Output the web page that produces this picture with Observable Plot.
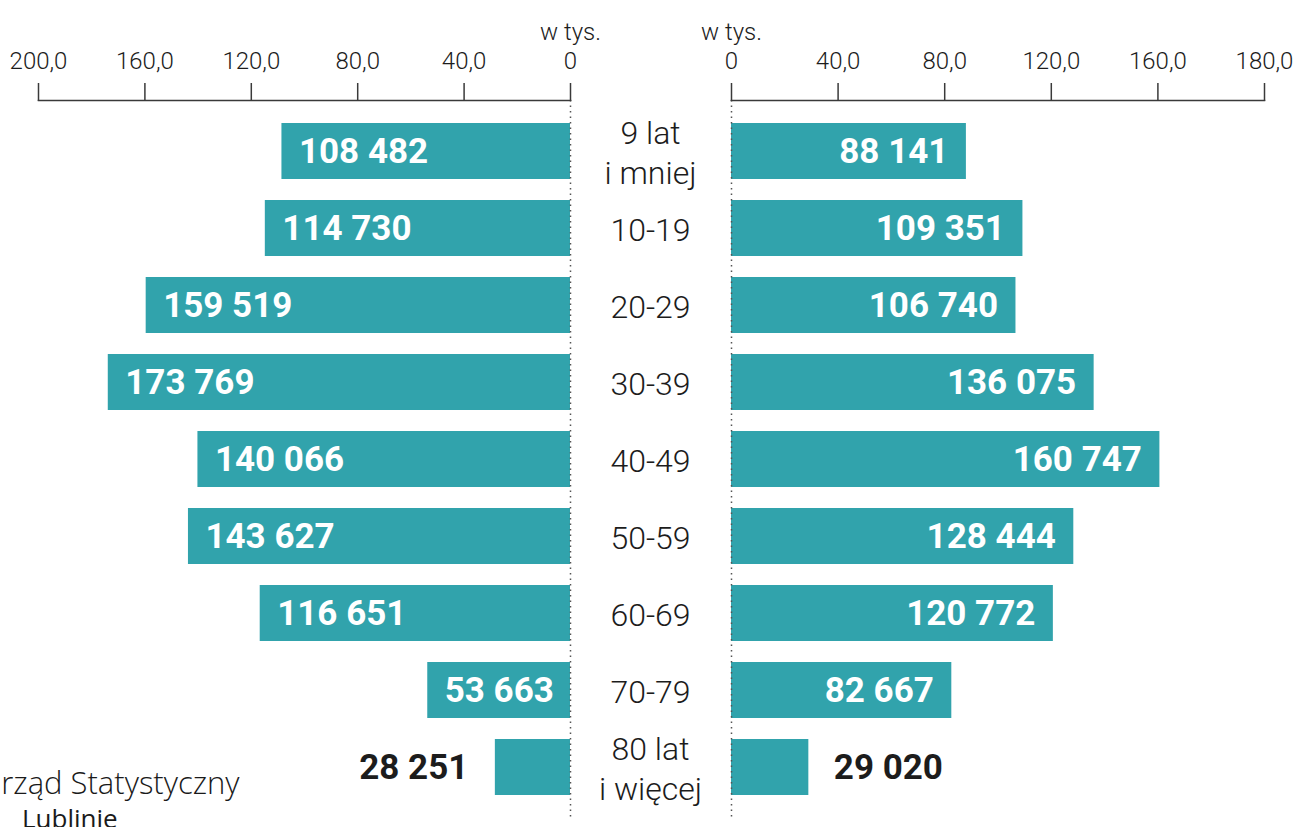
<!DOCTYPE html>
<html><head><meta charset="utf-8">
<script src="https://cdn.jsdelivr.net/npm/d3@7"></script>
<script src="https://cdn.jsdelivr.net/npm/@observablehq/plot@0.6"></script>
<style>
body{margin:0;background:#fff;}
#wrap{position:relative;width:1293px;height:827px;overflow:hidden;background:#fff;}
#wrap svg{position:absolute;left:0;top:0;}
.src{position:absolute;color:#1a1a1a;font-family:"Open Sans",sans-serif;font-weight:300;white-space:nowrap;line-height:1;}
</style></head><body><div id="wrap"></div>
<script>
const categories = ["9 lat\ni mniej","10-19","20-29","30-39","40-49","50-59","60-69","70-79","80 lat\ni więcej"];
const leftValues = [108482,114730,159519,173769,140066,143627,116651,53663,28251];
const rightValues = [88141,109351,106740,136075,160747,128444,120772,82667,29020];
const tickValues = [0,40,80,120,160,200];
const leftTickLabels = ["0","40,0","80,0","120,0","160,0","200,0"];
const rightTickLabels = ["0","40,0","80,0","120,0","160,0","180,0"];
const unitLabel = "w tys.";
const sourceLines = ["Urząd Statystyczny","Lublinie"];

const W = 1293, H = 827;
const teal = "#31a3ac";
const ink = "#1c1c1c";
const fmt = d3.formatLocale({decimal:",", thousands:" ", grouping:[3], currency:["",""]}).format(",d");

function side(values, labels, isLeft) {
  const data = categories.map((c,i) => ({cat:c, v:values[i]}));
  const inside = data.filter(d => d.v/1000 >= 40);
  const outside = data.filter(d => d.v/1000 < 40);
  const marks = [
    Plot.barX(data, {y:"cat", x1:0, x2:d => d.v/1000, fill:teal}),
    Plot.ruleX([0], {stroke:"#555", strokeDasharray:"1.5,4", strokeWidth:1.5}),
    Plot.frame({anchor:"top", stroke:"#3a3a3a", strokeWidth:1.5}),
    Plot.axisX({anchor:"top", ticks:tickValues, tickSize:18, tickPadding:14, label:null,
      tickFormat:d => labels[tickValues.indexOf(d)], fontSize:24, fontWeight:300,
      stroke:"#3a3a3a", strokeWidth:1.5, fill:ink, strokeOpacity:1}),
    Plot.text(inside, {y:"cat", x:d => d.v/1000, text:d => fmt(d.v),
      textAnchor:isLeft ? "start" : "end", dx:isLeft ? 17 : -18,
      fill:"white", fontSize:35, fontWeight:"bold"}),
    Plot.text(outside, {y:"cat", x:d => d.v/1000, text:d => fmt(d.v),
      textAnchor:isLeft ? "end" : "start", dx:isLeft ? -27 : 25,
      fill:ink, fontSize:35, fontWeight:"bold"}),
    Plot.text([{x:0, t:unitLabel}], {x:"x", text:"t", frameAnchor:"top", dy:-78,
      fontSize:24, fontWeight:300, fill:ink})
  ];
  if (isLeft) {
    marks.push(Plot.text(categories, {y:d => d, x:() => 0, dx:80, text:d => d,
      fontSize:32, fontWeight:300, lineHeight:1.22, fill:ink}));
  }
  return Plot.plot({
    width:W, height:H,
    marginTop:100, marginBottom:9,
    marginLeft:isLeft ? 38 : 731, marginRight:isLeft ? 723 : 29,
    x:{domain:[0,200], reverse:isLeft, label:null},
    y:{domain:categories, padding:0.277, axis:null},
    style:{background:"transparent", fontFamily:"Roboto, sans-serif"},
    marks
  });
}

const wrap = document.getElementById("wrap");
wrap.appendChild(side(leftValues, leftTickLabels, true));
wrap.appendChild(side(rightValues, rightTickLabels, false));

const s1 = document.createElement("div");
s1.className = "src"; s1.textContent = sourceLines[0];
s1.style.cssText = "left:-21px;top:767px;font-size:31px;";
wrap.appendChild(s1);
const s2 = document.createElement("div");
s2.className = "src"; s2.textContent = sourceLines[1];
s2.style.cssText = "left:22px;top:805px;font-size:26px;font-weight:400;";
wrap.appendChild(s2);
</script>
</body></html>
